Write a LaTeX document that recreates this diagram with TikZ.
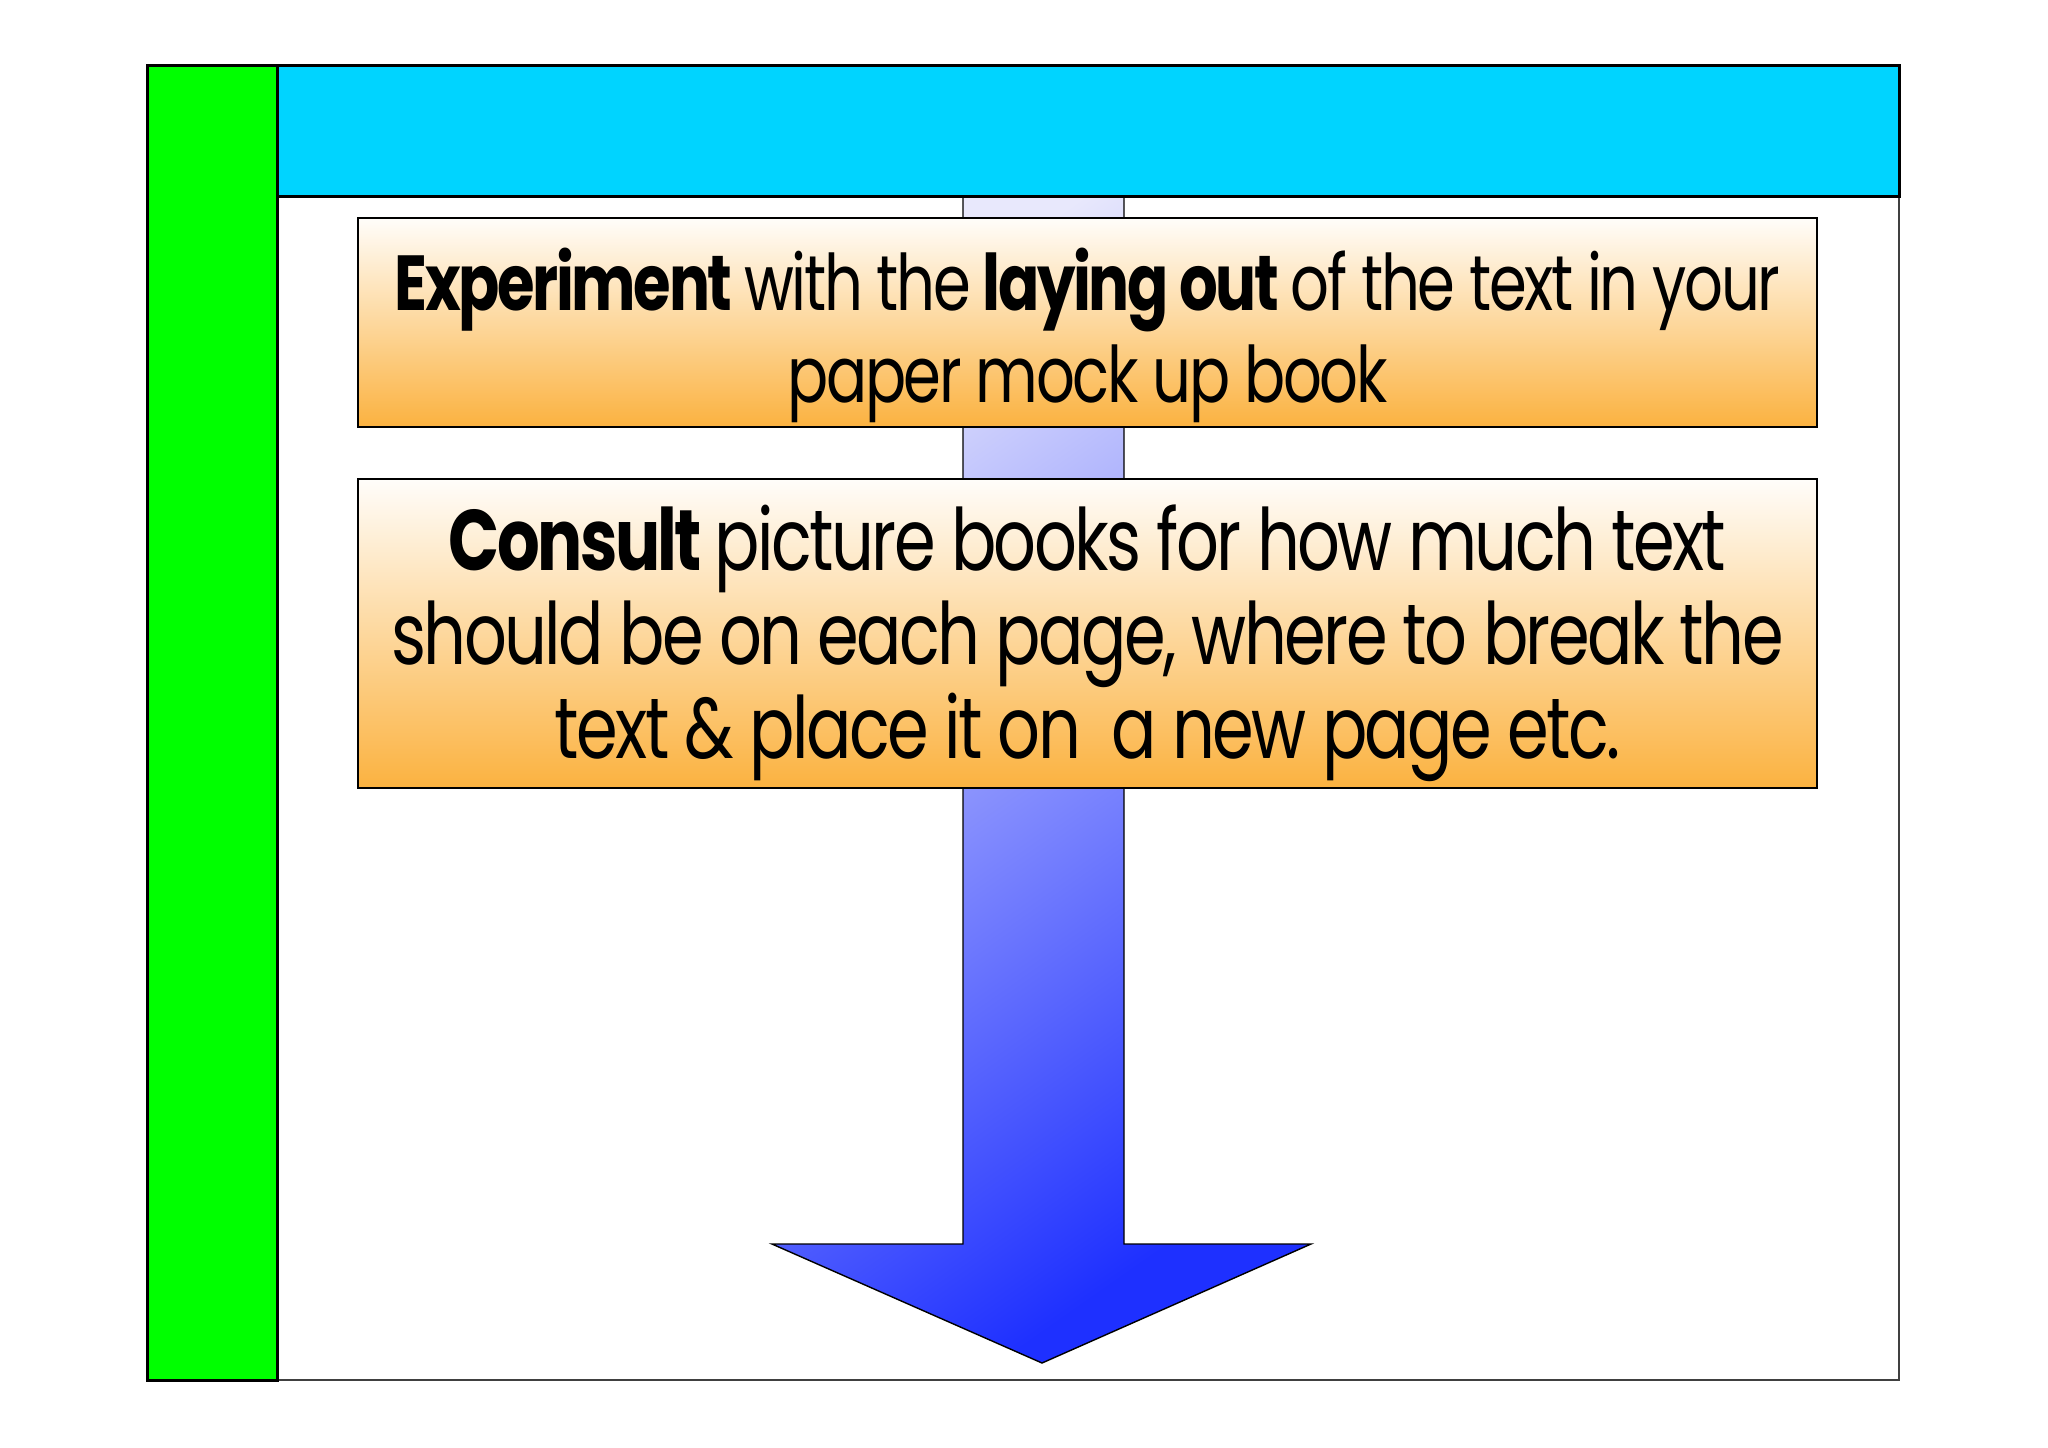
\documentclass[tikz,border=0pt]{standalone}
\usepackage{fontspec}
\setmainfont[FakeStretch=0.78,LetterSpace=-3]{Poppins}
\usetikzlibrary{positioning}

\definecolor{barGreen}{RGB}{0,255,0}
\definecolor{barCyan}{RGB}{0,212,255}
\definecolor{tipTop}{RGB}{255,253,250}
\definecolor{tipBottom}{RGB}{251,178,64}
\definecolor{shaftTop}{RGB}{232,232,252}
\definecolor{shaftBottom}{RGB}{30,48,255}

\begin{document}
\begin{tikzpicture}[x=0.5pt,y=-0.5pt]
  \tikzstyle{panel}=[draw=black,line width=1.5pt]
  \tikzstyle{tipbox}=[rectangle,draw=black,line width=1pt,
    top color=tipTop,bottom color=tipBottom,minimum width=729.5pt,inner sep=0pt]
  \tikzstyle{tiptext}=[inner sep=0pt,align=center]

  \useasboundingbox[fill=white] (0,0) rectangle (2048,1447);

  % page frame
  \draw[line width=0.8pt,draw=black!75] (147,65) rectangle (1899,1380);

  % big arrow behind the boxes
  \shade[draw=black,line width=0.7pt,top color=shaftTop,bottom color=shaftBottom,
         shading angle=35]
        (963,196) -- (1124,196) -- (1124,1244) -- (1311,1244)
        -- (1042,1363) -- (772,1244) -- (963,1244) -- cycle;

  \node[tipbox,minimum height=104.5pt] (layout) at (1087.5,322.5) {};
  \node[tiptext,font=\fontsize{39}{46}\selectfont] (layoutText)
    at ([yshift=-6.5pt]layout.center)
    {\textbf{Experiment} with the \textbf{laying out} of the text in your\\
     paper mock up book};

  \node[tipbox,minimum height=154.5pt] (consult) at (1087.5,633.5) {};
  \node[tiptext,font=\fontsize{43}{47}\selectfont] (consultText)
    at ([yshift=-5pt]consult.center)
    {\textbf{Consult} picture books for how much text\\
     should be on each page, where to break the\\
     text \& place it on\ \ a new page etc.};

  % side and top bars
  \draw[panel,fill=barGreen] (147,65) rectangle (277,1380);
  \draw[panel,fill=barCyan] (277,65) rectangle (1899,196);
\end{tikzpicture}
\end{document}
